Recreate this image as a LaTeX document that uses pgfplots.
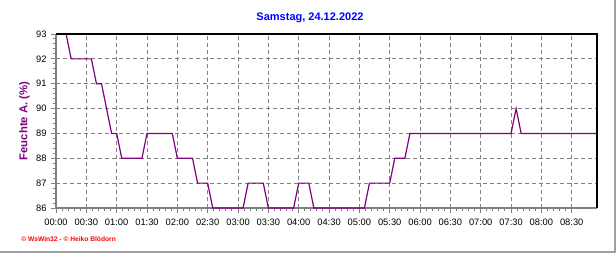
\documentclass[border=0pt]{standalone}
\usepackage{pgfplots}
\pgfplotsset{compat=1.18}
\usepackage{fontspec}
\setmainfont{Liberation Sans}
\definecolor{wspurple}{RGB}{128,0,128}
\definecolor{wsblue}{RGB}{0,0,255}
\definecolor{wsgray}{RGB}{128,128,128}
\definecolor{framegray}{RGB}{160,160,160}
\begin{document}
\begin{tikzpicture}
\useasboundingbox (0,0) rectangle (462pt,189.75pt);
\draw[framegray, line width=1.5pt] (0,0.75pt) -- (460.9pt,0.75pt) -- (460.9pt,189.75pt);
\node[font=\bfseries\fontsize{8.25}{9}\selectfont, text=wsblue] at (232.5pt,176.25pt) {Samstag, 24.12.2022};
\node[font=\bfseries\fontsize{5}{6}\selectfont, text=red, anchor=west, inner sep=0pt] at (15.75pt,10.5pt) {© WsWin32 - © Heiko Blödorn};
\begin{axis}[
  at={(42pt,33.75pt)}, anchor=south west,
  scale only axis, width=405.75pt, height=130.5pt,
  xmin=0, xmax=535, ymin=86, ymax=93,
  xtick={0,30,...,510},
  xticklabels={00:00,00:30,01:00,01:30,02:00,02:30,03:00,03:30,04:00,04:30,05:00,05:30,06:00,06:30,07:00,07:30,08:00,08:30},
  ytick={86,87,...,93},
  minor x tick num=4, minor y tick num=4,
  axis x line*=bottom, axis y line*=left,
  axis line style={wsgray, line width=2pt},
  tick align=outside,
  major tick length=3.5pt, minor tick length=2.5pt,
  tick style={wsgray, line width=0.75pt},
  xmajorgrids, ymajorgrids,
  major grid style={wsgray, dash pattern=on 3pt off 2.25pt, line width=0.6pt},
  /pgf/number format/assume math mode=true,
  ticklabel style={font=\fontsize{7}{8}\selectfont, text=black},
  xticklabel style={yshift=-1pt},
  ylabel={Feuchte A. (\%)},
  ylabel style={font=\bfseries\fontsize{8.5}{9}\selectfont, text=wspurple, yshift=-2pt},
  clip=false,
]
\addplot[wspurple, line width=0.9pt] coordinates {
(0,93) (10,93) (15,92) (35,92) (40,91) (45,91) (50,90) (55,89) (60,89)
(65,88) (85,88) (90,89) (115,89) (120,88) (135,88) (140,87) (150,87)
(155,86) (185,86) (190,87) (205,87) (210,86) (235,86) (240,87) (250,87)
(255,86) (305,86) (310,87) (330,87) (335,88) (345,88) (350,89) (450,89)
(455,90) (460,89) (535,89)
};
\draw[black, line width=1pt] (rel axis cs:0,1) -- (rel axis cs:1,1) -- (rel axis cs:1,0);
\end{axis}
\end{tikzpicture}
\end{document}
